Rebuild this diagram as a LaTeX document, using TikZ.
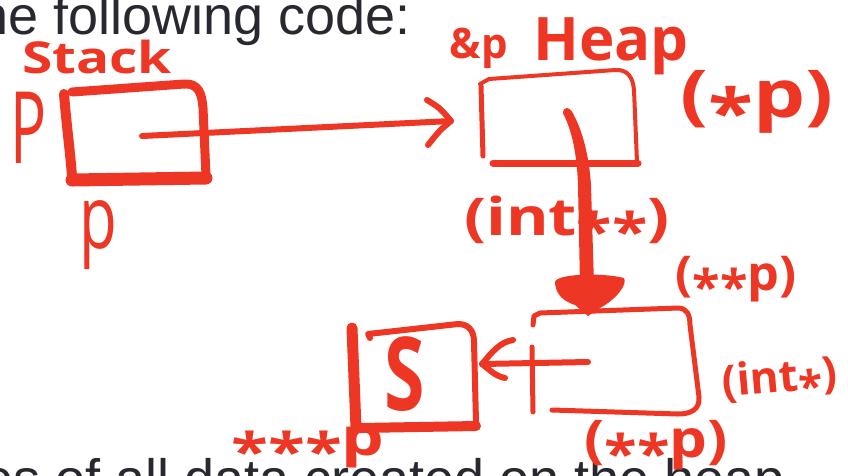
\documentclass[tikz,border=0pt]{standalone}
\usepackage{fontspec}
\usepackage{graphicx}
\setmainfont{Liberation Sans}
\newfontfamily\hwfont{Open Sans}
\definecolor{hred}{RGB}{238,54,36}
\definecolor{slidetext}{RGB}{40,40,48}
\newcommand{\fsz}[1]{\fontsize{#1}{#1}\selectfont}
\newcommand{\hwtxt}[3]{\scalebox{#1}[1]{\fsz{#2}\hwfont\bfseries #3}}
\newcommand{\hwreg}[3]{\scalebox{#1}[1]{\fsz{#2}\hwfont #3}}
\newcommand{\st}{\raisebox{-0.3em}{*}}
\begin{document}
\begin{tikzpicture}[x=1pt,y=-1pt, line cap=round, line join=round,
  ink/.style={draw=hred},
  lbl/.style={text=hred, inner sep=0pt, anchor=base},
  slide/.style={text=slidetext, inner sep=0pt, anchor=base west, font=\fsz{54}}]
\useasboundingbox (0,0) rectangle (848,475);
\clip (0,0) rectangle (848,475);
\fill[white] (0,0) rectangle (848,475);

% slide text
\node[slide] (t1) at (-22,34) {he following code:};
\node[slide] (t2) at (-17,497) {es of all data created on the heap};

% handwritten labels
\node[lbl] (stack) at (97,73) {\hwtxt{1.25}{44}{Stack}};
\node[lbl] (Pl) at (29,163) {\hwreg{0.6}{100}{P}};
\node[lbl] (pb) at (98,248) {\hwreg{0.7}{88}{p}};
\node[lbl] (amp) at (479,58) {\hwtxt{1}{42}{\&p}};
\node[lbl] (heap) at (611,60) {\hwtxt{1.0}{60}{Heap}};
\node[lbl] (sp) at (757,117) {\hwtxt{1.25}{66}{(\st p)}};
\node[lbl] (tint2) at (567,235) {\hwtxt{1.25}{52}{(int\st\st)}};
\node[lbl] (spp1) at (736,290) {\hwtxt{1.05}{48}{(\st\st p)}};
\node[lbl, rotate=5] (tint1) at (781,392) {\hwtxt{1.0}{44}{(int\st)}};
\node[lbl] (spp2) at (656,457) {\hwtxt{1.15}{52}{(\st\st p)}};
\node[lbl] (sppp) at (308,455) {\hwtxt{1.3}{52}{\st\st\st p}};
\node[lbl] (val) at (405,410) {\hwtxt{0.72}{102}{S}};

% stack box
\draw[ink, line width=9] (72,92) -- (184,84) .. controls (198,83) and (202,93) .. (203,108) -- (206,176);
\draw[ink, line width=13] (72,180) -- (206,178);
\draw[ink, line width=10] (64,94) .. controls (67,130) and (70,150) .. (72,176);

% arrow stack -> heap
\coordinate (a1s) at (142,136);
\coordinate (a1e) at (451,121);
\draw[ink, line width=6] (a1s) -- (a1e);
\draw[ink, line width=6] (427,100) .. controls (440,108) .. (a1e) .. controls (440,130) .. (428,145);

% heap box 1
\draw[ink, line width=5] (481,86) -- (483,156);
\draw[ink, line width=4] (480,84) -- (489,79) -- (615,70) .. controls (628,69) and (633,78) .. (634,90) -- (637,162);
\draw[ink, line width=7] (493,163) -- (638,163);

% vertical arrow
\coordinate (a2s) at (567,112);
\fill[hred] (563,113) .. controls (574,135) and (577,160) .. (578,185) -- (580,285) -- (594,285) -- (591,185) .. controls (589,155) and (582,128) .. (571,110) -- cycle;
\fill[hred] (a2s) circle (4);
\fill[hred] (555,283) .. controls (553,274) and (600,272) .. (624,278) .. controls (628,285) and (615,300) .. (600,308) -- (588,316) -- (575,305) .. controls (560,300) and (556,292) .. (555,283) -- cycle;

% heap box 2
\draw[ink, line width=5] (533,325) -- (534,316) -- (540,313) -- (678,308) .. controls (687,308) and (690,315) .. (690,325) -- (699,397) .. controls (700,410) and (690,414) .. (678,414) -- (552,410);
\draw[ink, line width=5] (532,347) -- (533,412);

% arrow box2 -> S box
\coordinate (a3s) at (588,362);
\coordinate (a3e) at (482,364);
\draw[ink, line width=6] (a3s) -- (a3e);
\draw[ink, line width=6] (513,340) .. controls (500,342) and (492,352) .. (a3e) .. controls (490,370) and (495,376) .. (505,378);

% S box
\draw[ink, line width=11] (352,328) -- (356,428);
\draw[ink, line width=6] (370,338) -- (368,334) -- (458,324) .. controls (468,324) and (474,330) .. (474,342) -- (476,422);
\draw[ink, line width=10] (360,428) -- (476,426);
\end{tikzpicture}
\end{document}
